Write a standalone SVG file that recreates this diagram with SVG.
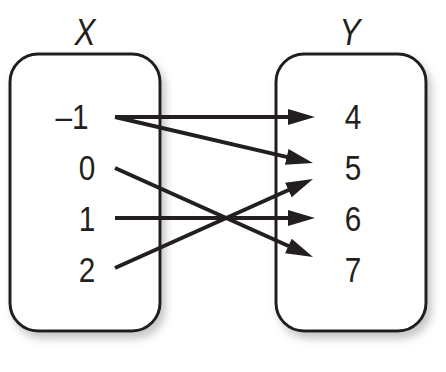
<svg xmlns="http://www.w3.org/2000/svg" width="446" height="372" viewBox="0 0 446 372">
<style>
.box{fill:#fff;stroke:#231f20;stroke-width:3}
.num{font-family:"Liberation Sans",Arial,sans-serif;font-size:35px;fill:#231f20;text-anchor:middle}
.lbl{font-family:"Liberation Sans",Arial,sans-serif;font-size:37px;font-style:italic;fill:#231f20;text-anchor:middle}
.conn line{stroke:#231f20;stroke-width:4;marker-end:url(#ah)}
</style>
<defs>
<filter id="sh" x="-20%" y="-20%" width="150%" height="150%">
<feDropShadow dx="4" dy="6" stdDeviation="4" flood-color="#808080" flood-opacity="0.45"/>
</filter>
<marker id="ah" markerUnits="userSpaceOnUse" markerWidth="30" markerHeight="18" viewBox="0 -9 30 18" refX="2" refY="0" orient="auto">
<path d="M0,-8 L27,0 L0,8 z" fill="#231f20"/>
</marker>
</defs>
<rect width="446" height="372" fill="#fff"/>
<g id="setX">
<rect class="box" x="10" y="54" width="150" height="277" rx="28" filter="url(#sh)"/>
<text class="lbl" transform="translate(85,45) scale(0.85,1)">X</text>
<text class="num" transform="translate(72,129) scale(0.85,1)">–1</text>
<text class="num" transform="translate(87,180) scale(0.85,1)">0</text>
<text class="num" transform="translate(87,231) scale(0.85,1)">1</text>
<text class="num" transform="translate(87,282) scale(0.85,1)">2</text>
</g>
<g id="setY">
<rect class="box" x="276" y="54" width="150" height="277" rx="28" filter="url(#sh)"/>
<text class="lbl" transform="translate(350,45) scale(0.85,1)">Y</text>
<text class="num" transform="translate(353,129) scale(0.85,1)">4</text>
<text class="num" transform="translate(353,180) scale(0.85,1)">5</text>
<text class="num" transform="translate(353,231) scale(0.85,1)">6</text>
<text class="num" transform="translate(353,282) scale(0.85,1)">7</text>
</g>
<g id="connectors" class="conn">
<line x1="115" y1="117" x2="290" y2="117"/>
<line x1="115" y1="117" x2="288.65" y2="157.34"/>
<line x1="115" y1="168" x2="290.2" y2="246.75"/>
<line x1="115" y1="218" x2="290" y2="218"/>
<line x1="115" y1="268" x2="290.2" y2="189.25"/>
</g>
</svg>
